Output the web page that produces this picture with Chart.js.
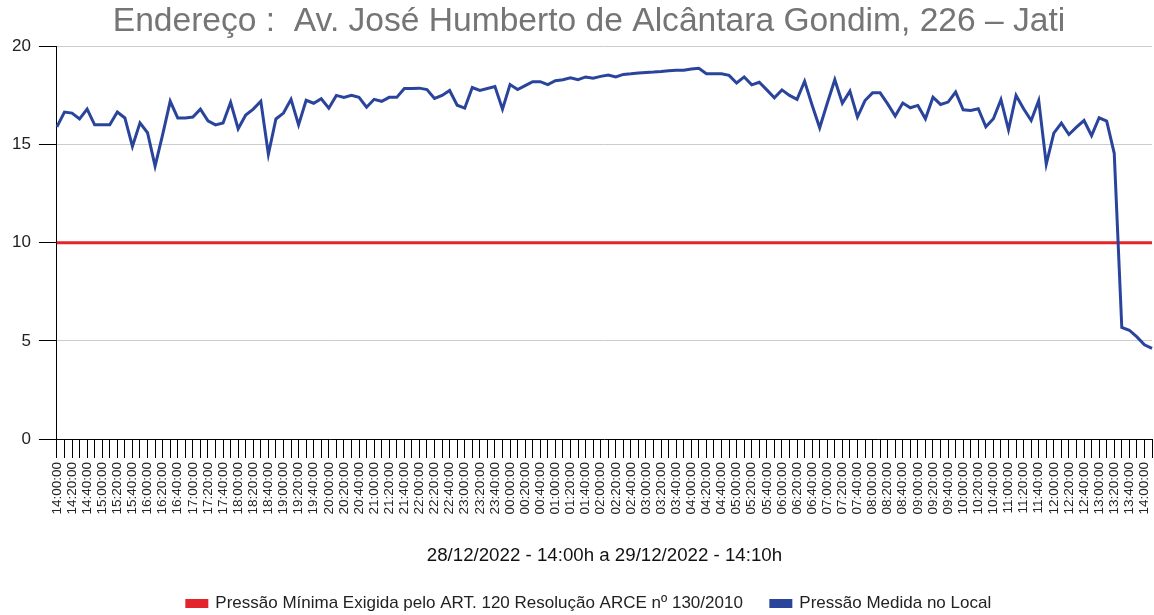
<!DOCTYPE html>
<html>
<head>
<meta charset="utf-8">
<script src="https://cdn.jsdelivr.net/npm/chart.js@4/dist/chart.umd.min.js"></script>
<style>
  html, body { margin: 0; padding: 0; background: #fff; }
  #wrap { width: 1154px; height: 615px; }
</style>
</head>
<body>
<div id="wrap"><canvas id="pressureChart" width="1154" height="615"></canvas></div>
<script>
// leituras a cada 10 min, de 28/12 14:00 a 29/12 14:10
var startHour = 14;
var stepMinutes = 10;

var measuredPressure = [
  15.9, 16.65, 16.6, 16.3, 16.8, 16.0, 16.0, 16.0, 16.65, 16.35,
  14.9, 16.1, 15.6, 13.9, 15.5, 17.2, 16.35, 16.35, 16.4, 16.8,
  16.2, 16.0, 16.1, 17.15, 15.8, 16.5, 16.8, 17.2, 14.5, 16.3,
  16.6, 17.3, 16.0, 17.25, 17.1, 17.33, 16.85, 17.5, 17.4, 17.5,
  17.4, 16.9, 17.3, 17.2, 17.4, 17.4, 17.85, 17.85, 17.87, 17.8,
  17.35, 17.5, 17.75, 17.0, 16.85, 17.9, 17.75, 17.85, 17.95, 16.8,
  18.05, 17.8, 18.0, 18.2, 18.2, 18.05, 18.25, 18.3, 18.4, 18.3,
  18.44, 18.38, 18.47, 18.54, 18.44, 18.57, 18.6, 18.64, 18.67, 18.69,
  18.72, 18.76, 18.78, 18.78, 18.84, 18.88, 18.6, 18.6, 18.6, 18.52,
  18.13, 18.44, 18.04, 18.17, 17.78, 17.38, 17.78, 17.5, 17.3, 18.22,
  17.0, 15.85, 17.1, 18.3, 17.1, 17.72, 16.4, 17.24, 17.63, 17.63,
  17.07, 16.45, 17.11, 16.87, 16.99, 16.31, 17.41, 17.04, 17.16, 17.67,
  16.77, 16.73, 16.82, 15.9, 16.31, 17.28, 15.75, 17.5, 16.82, 16.22,
  17.24, 14.0, 15.58, 16.09, 15.51, 15.88, 16.22, 15.45, 16.36, 16.19,
  14.55, 5.68, 5.54, 5.2, 4.8, 4.62
];

var minPressure = 10; // ART. 120 Resolução ARCE 130/2010
var yTicks = [0, 5, 10, 15, 20];

var titleText = 'Endereço :  Av. José Humberto de Alcântara Gondim, 226 – Jati';
var xTitleText = '28/12/2022 - 14:00h a 29/12/2022 - 14:10h';
var minLabel = 'Pressão Mínima Exigida pelo ART. 120 Resolução ARCE nº 130/2010';
var measLabel = 'Pressão Medida no Local';

function pad2(n) { return (n < 10 ? '0' : '') + n; }

var timeLabels = measuredPressure.map(function(v, i) {
    var total = startHour * 60 + i * stepMinutes;
    var h = Math.floor(total / 60) % 24;
    var m = total % 60;
    return pad2(h) + ':' + pad2(m) + ':00';
});

var minLine = timeLabels.map(function() { return minPressure; });

// no original o título e a legenda ficam um pouco à direita do centro
var shiftBlocks = {
    id: 'shiftBlocks',
    beforeDraw: function(chart) {
        [chart.titleBlock, chart.legend].forEach(function(b) {
            if (b && !b._shifted) { b.left += 11; b.right += 11; b._shifted = true; }
        });
    }
};

var ctx = document.getElementById('pressureChart').getContext('2d');
var chart = new Chart(ctx, {
    type: 'line',
    data: {
        labels: timeLabels,
        datasets: [
            {
                label: minLabel,
                data: minLine,
                borderColor: '#e3242b',
                backgroundColor: '#e3242b',
                borderWidth: 3,
                pointRadius: 0,
                fill: false,
                order: 1
            },
            {
                label: measLabel,
                data: measuredPressure,
                borderColor: '#2a449c',
                backgroundColor: '#2a449c',
                borderWidth: 3,
                pointRadius: 0,
                tension: 0,
                fill: false,
                order: 0
            }
        ]
    },
    plugins: [shiftBlocks],
    options: {
        responsive: false,
        animation: false,
        layout: { padding: { left: 4, right: 2, top: 0, bottom: -7 } },
        plugins: {
            title: {
                display: true,
                text: titleText,
                color: '#757575',
                font: { family: 'Liberation Sans', size: 33.6, weight: 'normal' },
                padding: { top: 2, bottom: 4 }
            },
            legend: {
                position: 'bottom',
                labels: {
                    boxWidth: 20,
                    boxHeight: 6,
                    padding: 28,
                    color: '#222',
                    font: { family: 'Liberation Sans', size: 17 },
                    sort: function(a, b) { return a.datasetIndex - b.datasetIndex; }
                }
            },
            tooltip: { enabled: false }
        },
        scales: {
            x: {
                border: { color: '#000', width: 1 },
                grid: { drawOnChartArea: false, drawTicks: true, tickLength: 19, color: '#000' },
                afterFit: function(axis) {
                    axis.paddingLeft = 0;
                    axis.paddingRight = 0;
                },
                ticks: {
                    autoSkip: false,
                    maxRotation: 90,
                    minRotation: 90,
                    padding: 4,
                    color: '#222',
                    font: { family: 'Liberation Sans', size: 13.5 },
                    callback: function(val, idx) {
                        return idx % 2 === 0 ? this.getLabelForValue(val) : '';
                    }
                },
                title: {
                    display: true,
                    text: xTitleText,
                    color: '#111',
                    font: { family: 'Liberation Sans', size: 18.7 },
                    padding: { top: 26, bottom: 0 }
                }
            },
            y: {
                min: 0,
                max: 20,
                border: { color: '#000', width: 1 },
                grid: { color: '#cccccc', tickColor: '#000', tickLength: 18 },
                afterBuildTicks: function(axis) {
                    axis.ticks = yTicks.map(function(v) { return { value: v }; });
                },
                ticks: {
                    padding: 8,
                    color: '#222',
                    font: { family: 'Liberation Sans', size: 17 }
                }
            }
        }
    }
});
</script>
</body>
</html>
